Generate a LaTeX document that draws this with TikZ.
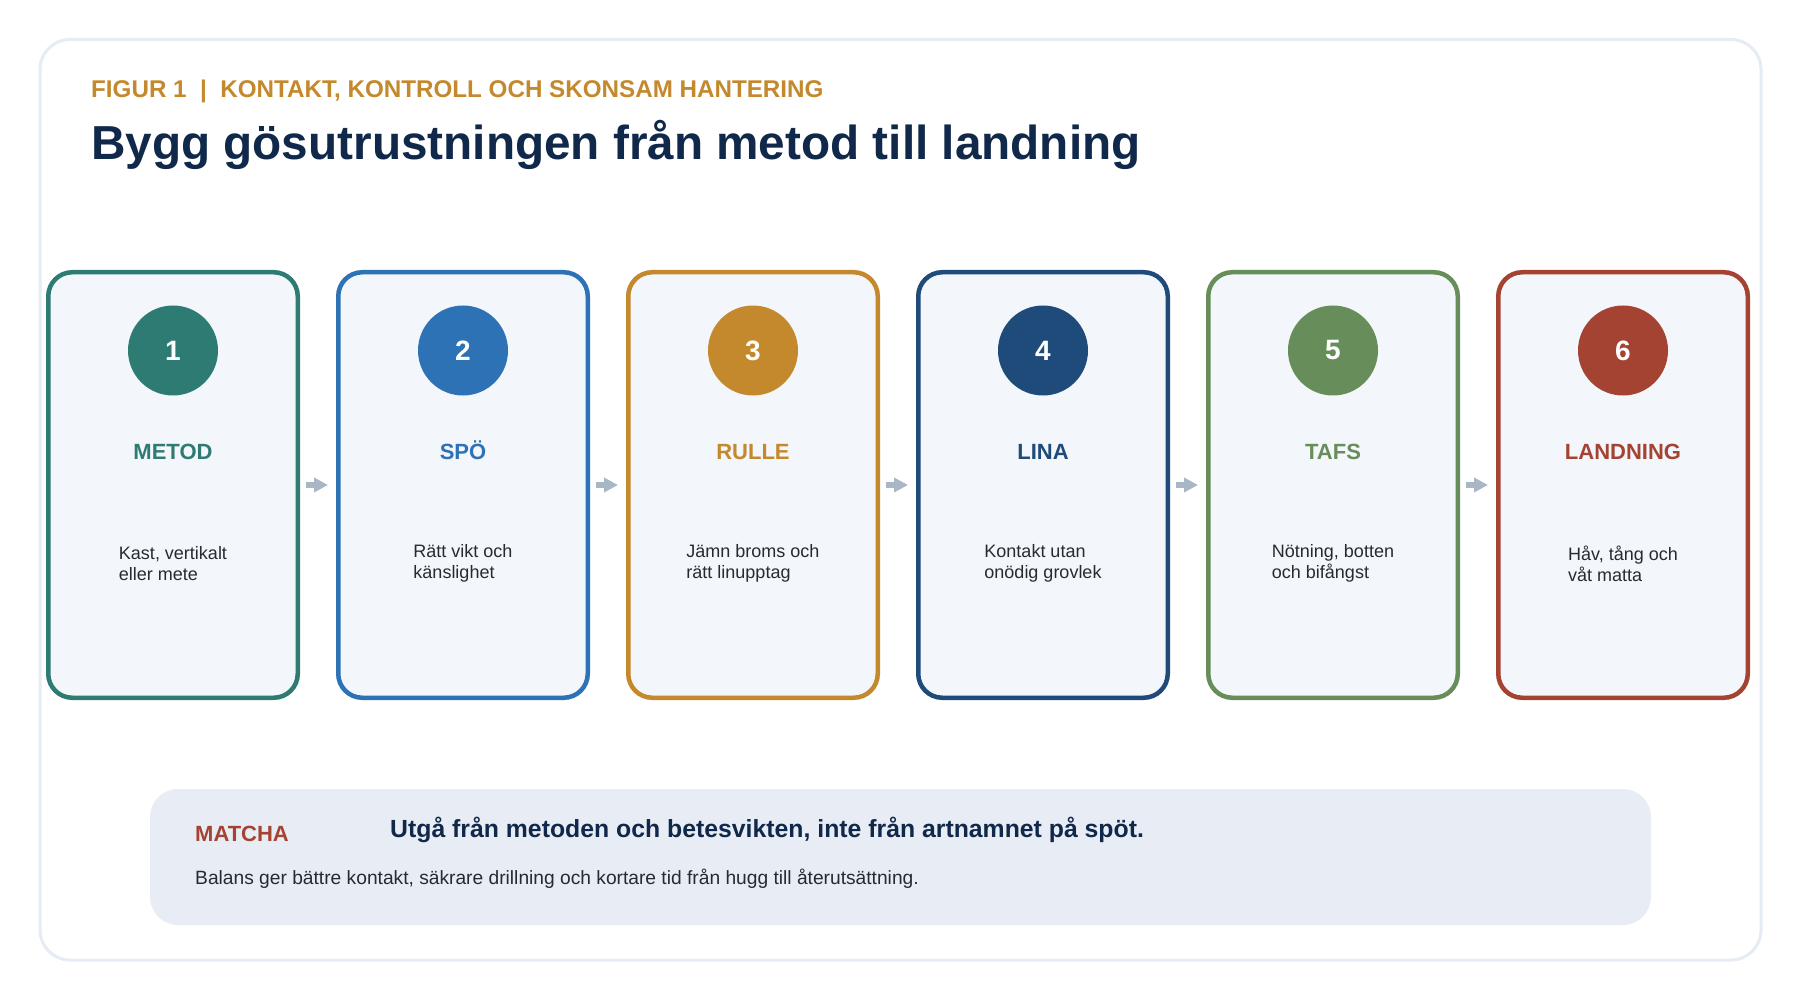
\documentclass[tikz,border=0pt]{standalone}
\usepackage{fontspec}
\setmainfont{Liberation Sans}
\usetikzlibrary{arrows.meta}
\definecolor{cTeal}{HTML}{2E7B73}
\definecolor{cBlue}{HTML}{2E72B6}
\definecolor{cGold}{HTML}{C4892C}
\definecolor{cNavy}{HTML}{1F4B7B}
\definecolor{cGreen}{HTML}{678D5B}
\definecolor{cRed}{HTML}{A54333}
\definecolor{titleNavy}{HTML}{10284A}
\definecolor{descText}{HTML}{262B33}
\definecolor{arrowGray}{HTML}{A9B6C6}
\definecolor{cardFill}{HTML}{F3F6FA}
\definecolor{noteFill}{HTML}{E8EDF5}
\definecolor{frameC}{HTML}{E6ECF3}
\begin{document}
\begin{tikzpicture}[x=1pt,y=-1pt,
  frame/.style={draw=frameC, line width=3pt, rounded corners=30pt, minimum width=1721pt, minimum height=920.5pt, inner sep=0pt},
  card/.style={draw, line width=4.5pt, rounded corners=24pt, fill=cardFill, minimum width=249.5pt, minimum height=425.5pt, inner sep=0pt, outer sep=2.25pt},
  badge/.style={circle, minimum size=90pt, inner sep=0pt, text=white, font=\fontsize{28}{32}\selectfont\bfseries},
  ctitle/.style={inner sep=0pt, anchor=base, font=\fontsize{22}{26}\selectfont\bfseries},
  cdesc/.style={align=left, inner sep=0pt, text=descText, font=\fontsize{18}{21}\selectfont},
  flow/.style={draw=arrowGray, line width=5.5pt, -{Triangle[length=14pt,width=14pt]}, shorten <=6pt, shorten >=8pt},
  note/.style={fill=noteFill, rounded corners=28pt, minimum width=1501pt, minimum height=136pt, inner sep=0pt}]
\useasboundingbox (0,0) rectangle (1800,1000);
\fill[white] (0,0) rectangle (1800,1000);
\node[frame] (frame) at (900.5,499.75) {};
\node[anchor=base west, inner sep=0pt, text=cGold, font=\fontsize{24.2}{28}\selectfont\bfseries] (kicker) at (91,97.5) {FIGUR 1~~|~~KONTAKT, KONTROLL OCH SKONSAM HANTERING};
\node[anchor=base west, inner sep=0pt, text=titleNavy, font=\fontsize{47.7}{56}\selectfont\bfseries] (title) at (91,160) {Bygg gösutrustningen från metod till landning};
\foreach \i/\col/\ttl/\desc in {1/cTeal/METOD/{Kast, vertikalt\\eller mete},2/cBlue/SPÖ/{Rätt vikt och\\känslighet},3/cGold/RULLE/{Jämn broms och\\rätt linupptag},4/cNavy/LINA/{Kontakt utan\\onödig grovlek},5/cGreen/TAFS/{Nötning, botten\\och bifångst},6/cRed/LANDNING/{Håv, tång och\\våt matta}}{
  \node[card, draw=\col] (card\i) at ({173+290*(\i-1)},485) {};
  \node[badge, fill=\col] (badge\i) at ({173+290*(\i-1)},350.5) {\i};
  \node[ctitle, text=\col] (ctitle\i) at ({173+290*(\i-1)},459) {\ttl};
  \node[cdesc] (desc\i) at ({173+290*(\i-1)},563.5) {\desc};
}
\foreach \a/\b in {1/2,2/3,3/4,4/5,5/6}{
  \draw[flow] (card\a.east) -- (card\b.west);
}
\node[note] (note) at (900.5,857) {};
\node[anchor=base west, inner sep=0pt, text=cRed, font=\fontsize{22}{26}\selectfont\bfseries] (matcha) at (195,841) {MATCHA};
\node[anchor=base west, inner sep=0pt, text=titleNavy, font=\fontsize{24.8}{30}\selectfont\bfseries] (lead) at (390,837) {Utgå från metoden och betesvikten, inte från artnamnet på spöt.};
\node[anchor=base west, inner sep=0pt, text=descText, font=\fontsize{19.2}{23}\selectfont] (body) at (195,884) {Balans ger bättre kontakt, säkrare drillning och kortare tid från hugg till återutsättning.};
\end{tikzpicture}
\end{document}
